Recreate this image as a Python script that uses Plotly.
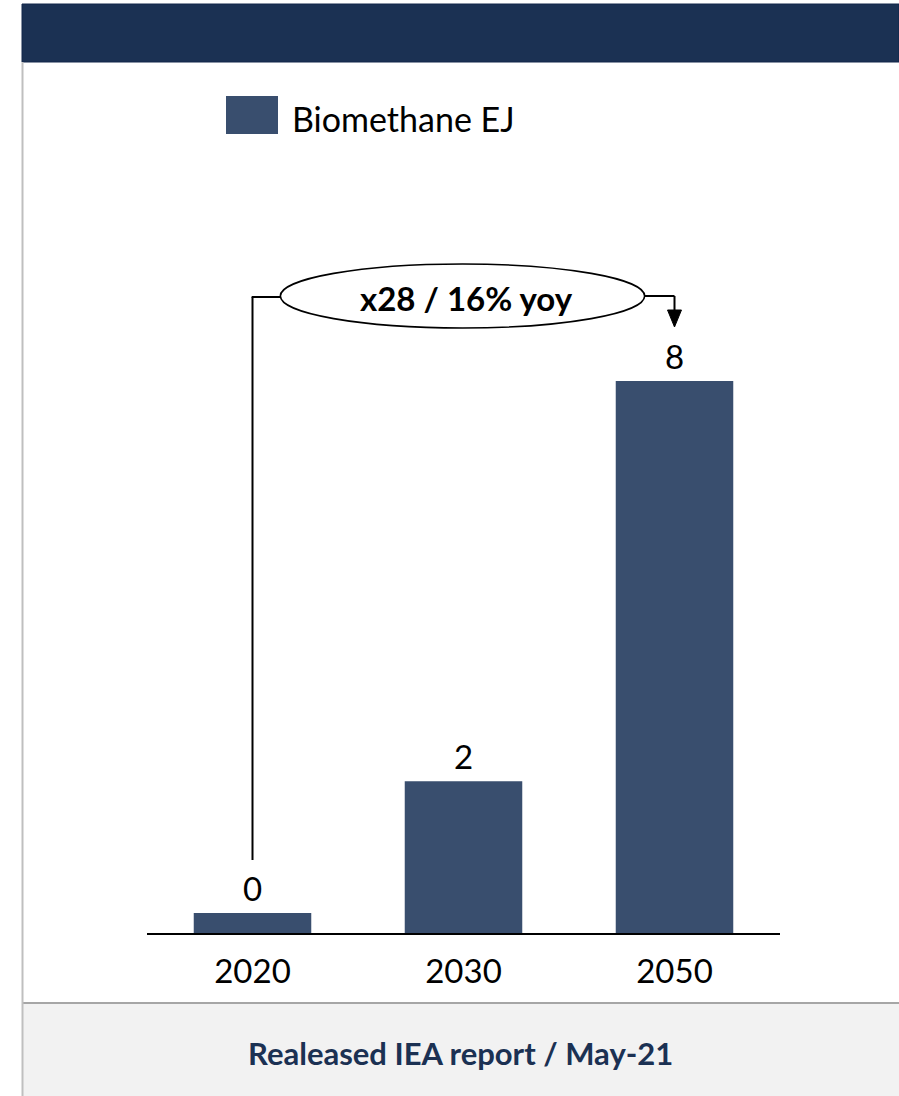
import plotly.graph_objects as go

# ---- data ----
categories = ["2020", "2030", "2050"]
values = [0.29, 2.2, 8.0]
series_name = "Biomethane EJ"
growth_label = "x28 / 16% yoy"
footer_text = "Realeased IEA report / May-21"

W, H = 899, 1096
NAVY = "#1b3153"
BAR = "#394e6e"
FONT = "Lato"

def px(x):
    return x / W

def py(y):
    return (H - y) / H

# plot area in pixels
X0, X1 = 147, 780
YB, YT = 933, 200
UNIT = 69.0  # px per EJ
ymax = (YB - YT) / UNIT

def yd(p):  # pixel -> data y
    return (YB - p) / UNIT

def xd(p):  # pixel -> data x
    return (p - 252) / 212.0

idx = list(range(len(categories)))

fig = go.Figure()
fig.add_trace(go.Bar(
    x=idx, y=values, marker=dict(color=BAR, line=dict(width=0)),
    width=0.557, showlegend=False, hoverinfo="skip",
))

shapes = []
annotations = []

# header band
shapes.append(dict(type="rect", xref="paper", yref="paper",
                   x0=px(22), x1=px(899), y0=py(62), y1=py(4),
                   fillcolor=NAVY, line=dict(color="#13264a", width=1), layer="below"))
# footer band
shapes.append(dict(type="rect", xref="paper", yref="paper",
                   x0=px(22), x1=px(899), y0=py(1096), y1=py(1003),
                   fillcolor="#f2f2f2", line=dict(width=0), layer="below"))
shapes.append(dict(type="line", xref="paper", yref="paper",
                   x0=px(22), x1=px(899), y0=py(1003), y1=py(1003),
                   line=dict(color="#a6a6a6", width=2)))
# left border
shapes.append(dict(type="line", xref="paper", yref="paper",
                   x0=px(22.5), x1=px(22.5), y0=py(62), y1=py(1096),
                   line=dict(color="#bfbfbf", width=2)))

# legend
shapes.append(dict(type="rect", xref="paper", yref="paper",
                   x0=px(226), x1=px(278), y0=py(134), y1=py(96),
                   fillcolor=BAR, line=dict(width=0)))
annotations.append(dict(xref="paper", yref="paper", x=px(290), y=py(118),
                        xanchor="left", yanchor="middle", showarrow=False,
                        text=series_name, font=dict(family=FONT, size=34, color="black")))

# growth connector
LW = 2
shapes.append(dict(type="line", xref="x", yref="y", x0=idx[0], x1=idx[0],
                   y0=yd(860), y1=yd(297), line=dict(color="black", width=LW)))
shapes.append(dict(type="line", xref="x", yref="y", x0=idx[0] - 0.004, x1=xd(282),
                   y0=yd(297), y1=yd(297), line=dict(color="black", width=LW)))
shapes.append(dict(type="line", xref="x", yref="y", x0=xd(644), x1=idx[2],
                   y0=yd(296), y1=yd(296), line=dict(color="black", width=LW)))
shapes.append(dict(type="line", xref="x", yref="y", x0=idx[2], x1=idx[2],
                   y0=yd(296), y1=yd(312), line=dict(color="black", width=LW)))
# arrow head
tx = idx[2]
shapes.append(dict(type="path", xref="x", yref="y",
                   path=f"M {tx - 7/212} {yd(310)} L {tx + 7/212} {yd(310)} L {tx} {yd(327)} Z",
                   fillcolor="black", line=dict(color="black", width=1)))
# ellipse
shapes.append(dict(type="circle", xref="x", yref="y",
                   x0=xd(280), x1=xd(646), y0=yd(328), y1=yd(264),
                   fillcolor="white", line=dict(color="black", width=1.6)))
annotations.append(dict(xref="x", yref="y", x=xd(467), y=yd(298),
                        xanchor="center", yanchor="middle", showarrow=False,
                        text=f"<b>{growth_label}</b>",
                        font=dict(family=FONT, size=33, color="black")))

# value labels
for i, v in zip(idx, values):
    annotations.append(dict(xref="x", yref="y", x=i, y=v, yanchor="bottom",
                            yshift=3, showarrow=False, text=f"{v:.0f}",
                            font=dict(family=FONT, size=33, color="black")))

# footer text
annotations.append(dict(xref="paper", yref="paper", x=px(461), y=py(1053),
                        xanchor="center", yanchor="middle", showarrow=False,
                        text=f"<b>{footer_text}</b>",
                        font=dict(family=FONT, size=31, color=NAVY)))

fig.update_layout(
    width=W, height=H, margin=dict(l=0, r=0, t=0, b=0),
    paper_bgcolor="white", plot_bgcolor="white",
    shapes=shapes, annotations=annotations,
    hovermode=False,
    xaxis=dict(domain=[px(X0), px(X1)], range=[-0.5, 2.5],
               tickvals=idx, ticktext=categories,
               showline=True, linecolor="black", linewidth=2,
               showgrid=False, zeroline=False, ticks="",
               ticklabelstandoff=8, fixedrange=True,
               tickfont=dict(family=FONT, size=33, color="black")),
    yaxis=dict(domain=[py(YB), py(YT)], range=[0, ymax], visible=False,
               showgrid=False, zeroline=False, fixedrange=True),
    font=dict(family=FONT),
)

fig.write_html("out.html",
               config={"displayModeBar": False, "staticPlot": True},
               post_script="document.body.style.margin='0';document.body.style.overflow='hidden';")
